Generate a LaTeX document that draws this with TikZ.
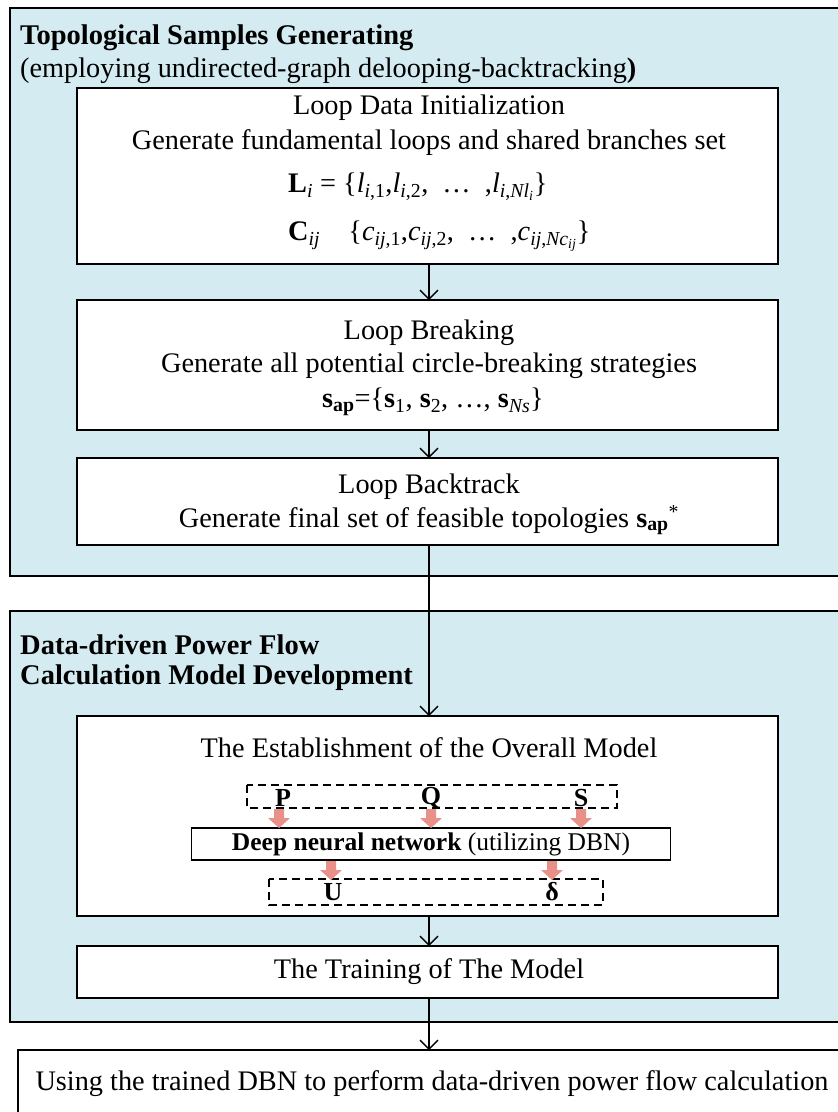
\documentclass[tikz,border=0pt]{standalone}
\usepackage{fontspec}
\setmainfont{Liberation Serif}
\usetikzlibrary{arrows.meta}
\definecolor{panel}{HTML}{D4ECF1}
\definecolor{salmon}{HTML}{E99089}
\tikzset{
  panelbox/.style={draw=black, line width=1.3pt, fill=panel},
  stepbox/.style={draw=black, line width=1.3pt, fill=white},
  dashbox/.style={draw=black, line width=1.1pt, dash pattern=on 8pt off 5pt},
  flow/.style={draw=black, line width=1.3pt, -{Straight Barb[length=9pt,width=18pt,line width=1.3pt]}},
  txt/.style={font=\fontsize{28.3}{32}\selectfont, inner sep=0pt},
  ttl/.style={font=\fontsize{28.5}{32}\selectfont\bfseries, inner sep=0pt, anchor=west},
  lbl/.style={font=\fontsize{26}{30}\selectfont\bfseries, inner sep=0pt},
  redarrow/.style={fill=salmon, draw=none}
}
\newcommand{\sub}[1]{\textsubscript{#1}}
\begin{document}
\begin{tikzpicture}[x=1pt,y=-1pt]
\useasboundingbox (0,0) rectangle (838,1112);
\clip (0,0) rectangle (838,1112);
% panels
\path[panelbox] (10,8) rectangle (860,576);
\path[panelbox] (10,611) rectangle (860,1022);
% titles
\node[ttl] (t1) at (20,38) {Topological Samples Generating};
\node[txt, anchor=west] (t1b) at (20,71) {(employing undirected-graph delooping-backtracking\textbf{)}};
\node[ttl] (t2) at (20,645) {Data-driven Power Flow};
\node[ttl] (t2b) at (20,678) {Calculation Model Development};
% boxes
\path[stepbox] (77,88) rectangle (778,264);
\coordinate (b1top) at (429,88); \coordinate (b1bot) at (429,264);
\path[stepbox] (77,300) rectangle (778,430);
\coordinate (b2top) at (429,300); \coordinate (b2bot) at (429,430);
\path[stepbox] (77,458) rectangle (778,545);
\coordinate (b3top) at (429,458); \coordinate (b3bot) at (429,545);
\path[stepbox] (77,716) rectangle (778,916);
\coordinate (b4top) at (429,716); \coordinate (b4bot) at (429,916);
\path[stepbox] (77,946) rectangle (778,998);
\coordinate (b5top) at (429,946); \coordinate (b5bot) at (429,998);
\path[stepbox] (18,1050) rectangle (860,1140);
\coordinate (b6top) at (429,1050);
% texts box1
\node[txt] (l1a) at (429,108) {Loop Data Initialization};
\node[txt] (l1b) at (429,143) {Generate fundamental loops and shared branches set};
\node[txt, anchor=west] (l1c) at (288,187) {\textbf{L}\sub{\textit{i}} = \{\textit{l}\sub{\textit{i},1},\textit{l}\sub{\textit{i},2}, \ \dots\ \ ,\textit{l}\sub{\textit{i},\textit{Nl}\sub{\textit{i}}}\}};
\node[txt, anchor=west] (l1d) at (288,236) {\textbf{C}\sub{\textit{ij}}\quad\{\textit{c}\sub{\textit{ij},1},\textit{c}\sub{\textit{ij},2}, \ \dots\ \ ,\textit{c}\sub{\textit{ij},\textit{Nc}\sub{\textit{ij}}}\}};
% box2
\node[txt] (l2a) at (429,333) {Loop Breaking};
\node[txt] (l2b) at (429,366) {Generate all potential circle-breaking strategies};
\node[txt] (l2c) at (433,402) {\textbf{s}\sub{\textbf{ap}}=\{\textbf{s}\sub{1}, \textbf{s}\sub{2}, \dots, \textbf{s}\sub{\textit{Ns}}\}};
% box3
\node[txt] (l3a) at (429,487) {Loop Backtrack};
\node[txt] (l3b) at (429,520) {Generate final set of feasible topologies \textbf{s}\sub{\textbf{ap}}\textsuperscript{*}};
% box4
\node[txt] (l4a) at (429,748) {The Establishment of the Overall Model};
\path[dashbox] (247,785) rectangle (617,808);
\path[dashbox] (269,879) rectangle (603,905);
\node[lbl] (P) at (283,798) {P};
\node[lbl] (Q) at (431,798) {Q};
\node[lbl] (S) at (581,798) {S};
\node[draw=black, line width=1.3pt, fill=white, minimum width=479pt, minimum height=32pt, inner sep=0pt,
      font=\fontsize{25.5}{30}\selectfont] (dnn) at (431,844) {\textbf{Deep neural network} (utilizing DBN)};
\node[lbl] (U) at (333,892) {U};
\node[lbl] (D) at (552,892) {δ};
% red arrows
\foreach \x/\y in {279/809, 431/809, 581/809, 331/861, 552/861} {
  \path[redarrow] (\x-5,\y) -- (\x+5,\y) -- (\x+5,\y+9) -- (\x+11,\y+9) -- (\x,\y+19) -- (\x-11,\y+9) -- (\x-5,\y+9) -- cycle;
}
% box5
\node[txt] (l5) at (429,972) {The Training of The Model};
% box6
\node[txt] (l6) at (432,1084) {Using the trained DBN to perform data-driven power flow calculation};
% connectors
\draw[flow] (b1bot) -- (b2top);
\draw[flow] (b2bot) -- (b3top);
\draw[flow] (b3bot) -- (b4top);
\draw[flow] (b4bot) -- (b5top);
\draw[flow] (b5bot) -- (b6top);
\end{tikzpicture}
\end{document}
